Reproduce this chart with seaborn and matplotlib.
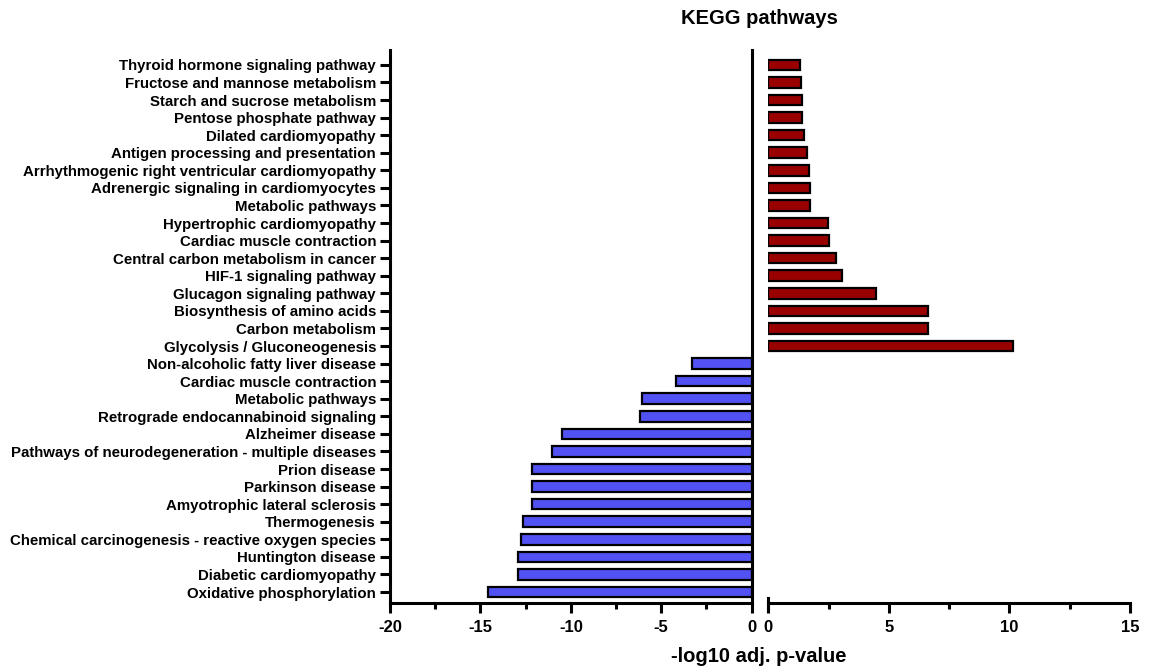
import matplotlib
matplotlib.use("Agg")
import matplotlib.pyplot as plt
import seaborn as sns
import pandas as pd
from matplotlib.ticker import MultipleLocator

# Enriched KEGG pathways: up-regulated (positive) and down-regulated (negative)
up_pathways = [
    "Thyroid hormone signaling pathway",
    "Fructose and mannose metabolism",
    "Starch and sucrose metabolism",
    "Pentose phosphate pathway",
    "Dilated cardiomyopathy",
    "Antigen processing and presentation",
    "Arrhythmogenic right ventricular cardiomyopathy",
    "Adrenergic signaling in cardiomyocytes",
    "Metabolic pathways",
    "Hypertrophic cardiomyopathy",
    "Cardiac muscle contraction",
    "Central carbon metabolism in cancer",
    "HIF-1 signaling pathway",
    "Glucagon signaling pathway",
    "Biosynthesis of amino acids",
    "Carbon metabolism",
    "Glycolysis / Gluconeogenesis",
]
up_scores = [1.32, 1.36, 1.39, 1.39, 1.47, 1.61, 1.67, 1.72, 1.72,
             2.49, 2.53, 2.81, 3.06, 4.46, 6.63, 6.63, 10.14]

down_pathways = [
    "Non-alcoholic fatty liver disease",
    "Cardiac muscle contraction",
    "Metabolic pathways",
    "Retrograde endocannabinoid signaling",
    "Alzheimer disease",
    "Pathways of neurodegeneration - multiple diseases",
    "Prion disease",
    "Parkinson disease",
    "Amyotrophic lateral sclerosis",
    "Thermogenesis",
    "Chemical carcinogenesis - reactive oxygen species",
    "Huntington disease",
    "Diabetic cardiomyopathy",
    "Oxidative phosphorylation",
]
down_scores = [-3.29, -4.20, -6.06, -6.15, -10.49, -11.04, -12.15, -12.15,
               -12.15, -12.67, -12.74, -12.93, -12.93, -14.59]

left_ticks = [-20, -15, -10, -5, 0]
right_ticks = [0, 5, 10, 15]

RED = "#990000"
BLUE = "#5252F4"
LW = 2.2

sns.set_theme(style="ticks")
plt.rcParams["font.family"] = ["Liberation Sans", "DejaVu Sans"]
plt.rcParams["font.weight"] = "bold"

names = up_pathways + down_pathways
row_ids = [f"row{i:02d}" for i in range(len(names))]
df = pd.DataFrame({
    "row": row_ids,
    "pathway": names,
    "score": up_scores + down_scores,
    "direction": ["up"] * len(up_pathways) + ["down"] * len(down_pathways),
})

fig = plt.figure(figsize=(11.49, 6.68), dpi=100)
ax_l = fig.add_axes([0.3394, 0.0969, 0.3148, 0.8283])
ax_r = fig.add_axes([0.6687, 0.0969, 0.3148, 0.8283])

bar_kw = dict(x="score", y="row", order=row_ids, saturation=1, width=0.6,
              edgecolor="black", linewidth=1.6, errorbar=None)
sns.barplot(data=df[df.direction == "down"], color=BLUE, ax=ax_l, **bar_kw)
sns.barplot(data=df[df.direction == "up"], color=RED, ax=ax_r, **bar_kw)

ylim = (len(names) - 1 + 0.64, -0.85)
for ax in (ax_l, ax_r):
    ax.set_ylim(*ylim)
    ax.set_xlabel("")
    ax.set_ylabel("")
    ax.xaxis.set_minor_locator(MultipleLocator(2.5))
    ax.tick_params(axis="x", which="major", length=7, width=LW, color="black",
                   labelsize=12, pad=5, labelcolor="black")
    ax.tick_params(axis="x", which="minor", length=4.5, width=LW, color="black")
    ax.spines["top"].set_visible(False)
    ax.spines["bottom"].set_linewidth(LW)
    ax.spines["bottom"].set_color("black")

# Left panel: negative scores, category labels
ax_l.set_xlim(-20, 0)
ax_l.set_xticks(left_ticks)
ax_l.set_xticklabels([str(t) for t in left_ticks], fontweight="bold")
ax_l.set_yticks(range(len(names)))
ax_l.set_yticklabels(names, fontsize=10.8, fontweight="bold", color="black")
ax_l.tick_params(axis="y", length=7.5, width=LW, color="black", pad=2.5)
for side in ("left", "right"):
    ax_l.spines[side].set_linewidth(LW)
    ax_l.spines[side].set_color("black")

# Right panel: positive scores, short cap marking the axis break
ax_r.set_xlim(0, 15)
ax_r.set_xticks(right_ticks)
ax_r.set_xticklabels([str(t) for t in right_ticks], fontweight="bold")
ax_r.tick_params(axis="y", left=False, labelleft=False)
ax_r.spines["right"].set_visible(False)
ax_r.spines["left"].set_linewidth(LW)
ax_r.spines["left"].set_color("black")
ax_r.spines["left"].set_bounds(ylim[0] - 0.31, ylim[0] + 0.31)

fig.text(0.6606, 0.972, "KEGG pathways", ha="center", va="center",
         fontsize=14.5, fontweight="bold", color="black")
fig.text(0.6606, 0.0165, "-log10 adj. p-value", ha="center", va="center",
         fontsize=14.5, fontweight="bold", color="black")

fig.savefig("out.png", dpi=100)
